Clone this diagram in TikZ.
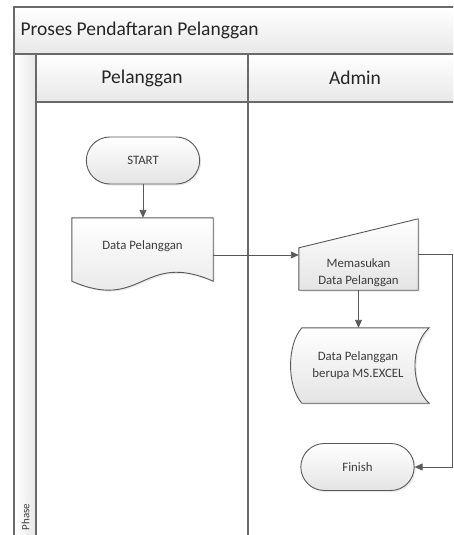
\documentclass[tikz,border=0pt]{standalone}
\usepackage{fontspec}
\setmainfont{Carlito}
\usetikzlibrary{arrows.meta,shapes.misc,shadows,calc}

\definecolor{edgegray}{HTML}{595959}
\definecolor{framegray}{HTML}{6A6A6A}
\definecolor{headgray}{HTML}{E8E8E8}
\definecolor{fillgray}{HTML}{E4E4E4}
\definecolor{textgray}{HTML}{3C3C3C}

\begin{document}
\begin{tikzpicture}[
	x=1pt, y=-1pt,
	frame/.style = {draw=framegray, line width=1.2pt},
	band/.style = {frame, top color=white, bottom color=headgray},
	outline/.style = {draw=edgegray, line width=0.9pt, top color=white, bottom color=fillgray,
		drop shadow={opacity=0.18, shadow xshift=1.5pt, shadow yshift=-1.5pt}},
	terminal/.style = {rounded rectangle, outline, minimum width=120pt, minimum height=47pt},
	holder/.style = {rectangle, inner sep=0pt},
	txt/.style = {align=center, font=\fontsize{12.8}{17}\selectfont, text=textgray},
	head/.style = {font=\fontsize{19.5}{23}\selectfont, text=black!85},
	flow/.style = {draw=edgegray, line width=0.9pt, -{Triangle[length=8pt,width=7pt]}}
	]
	\useasboundingbox (0,0) rectangle (453,535);
	
	% Pool and lanes
	\begin{scope}
		\clip (0,0) rectangle (453,535);
		\path[band] (14,7) rectangle (470,54);
		\path[band] (36,54) rectangle (470,102);
		\path[frame, left color=white, right color=headgray] (14,54) rectangle (36,545);
		\draw[frame] (248,54) -- (248,545);
		\draw[frame] (14,7) rectangle (470,545);
	\end{scope}
	\node[head, anchor=west] (title) at (17,30) {Proses Pendaftaran Pelanggan};
	\node[head] (lanepel) at (142,78) {Pelanggan};
	\node[head] (laneadm) at (355,78) {Admin};
	\node[rotate=90, font=\fontsize{11}{13}\selectfont, text=textgray] (phase) at (25.5,517) {Phase};
	
	% Pelanggan
	\node[terminal, txt] (start) at (143,160.5) {START};
	\node[holder, minimum width=141pt, minimum height=74pt] (datapel) at (142.5,255) {};
	\path[outline] (datapel.north west) -- (datapel.north east) -- ($(datapel.south east)+(0,-11)$)
		.. controls ($(datapel.south)+(0,-42)$) and ($(datapel.south)+(0,20)$) .. ($(datapel.south west)+(0,-11)$) -- cycle;
	\node[txt] (datapeltxt) at ([yshift=9pt]datapel.center) {Data Pelanggan};
	
	% Admin
	\node[holder, minimum width=119pt, minimum height=71pt] (memasukan) at (358.5,254.5) {};
	\path[outline] ($(memasukan.north west)+(0,29)$) -- (memasukan.north east) -- (memasukan.south east) -- (memasukan.south west) -- cycle;
	\node[txt] (memasukantxt) at ([yshift=-18.5pt]memasukan.center) {Memasukan\\Data Pelanggan};
	
	\node[holder, minimum width=138pt, minimum height=75pt] (stored) at (360,365.5) {};
	\path[outline] ($(stored.north west)+(11,0)$) -- (stored.north east)
		.. controls ($(stored.north east)+(-19,17)$) and ($(stored.south east)+(-19,-17)$) .. (stored.south east)
		-- ($(stored.south west)+(11,0)$)
		.. controls ($(stored.south west)+(-4,-17)$) and ($(stored.north west)+(-4,17)$) .. cycle;
	\node[txt] (storedtxt) at ([xshift=-2pt]stored.center) {Data Pelanggan\\berupa MS.EXCEL};
	
	\node[terminal, txt] (finish) at (357.5,467) {Finish};
	
	% Connectors
	\coordinate (rail) at (452,0);
	\draw[flow] (start.south) -- (start.south |- datapel.north);
	\draw[flow] (datapel.east) -- (datapel.east -| memasukan.west);
	\draw[flow] (memasukan.south) -- (memasukan.south |- stored.north);
	\draw[flow] (memasukan.east) -| (rail |- finish.east) -- (finish.east);
	
\end{tikzpicture}
\end{document}
